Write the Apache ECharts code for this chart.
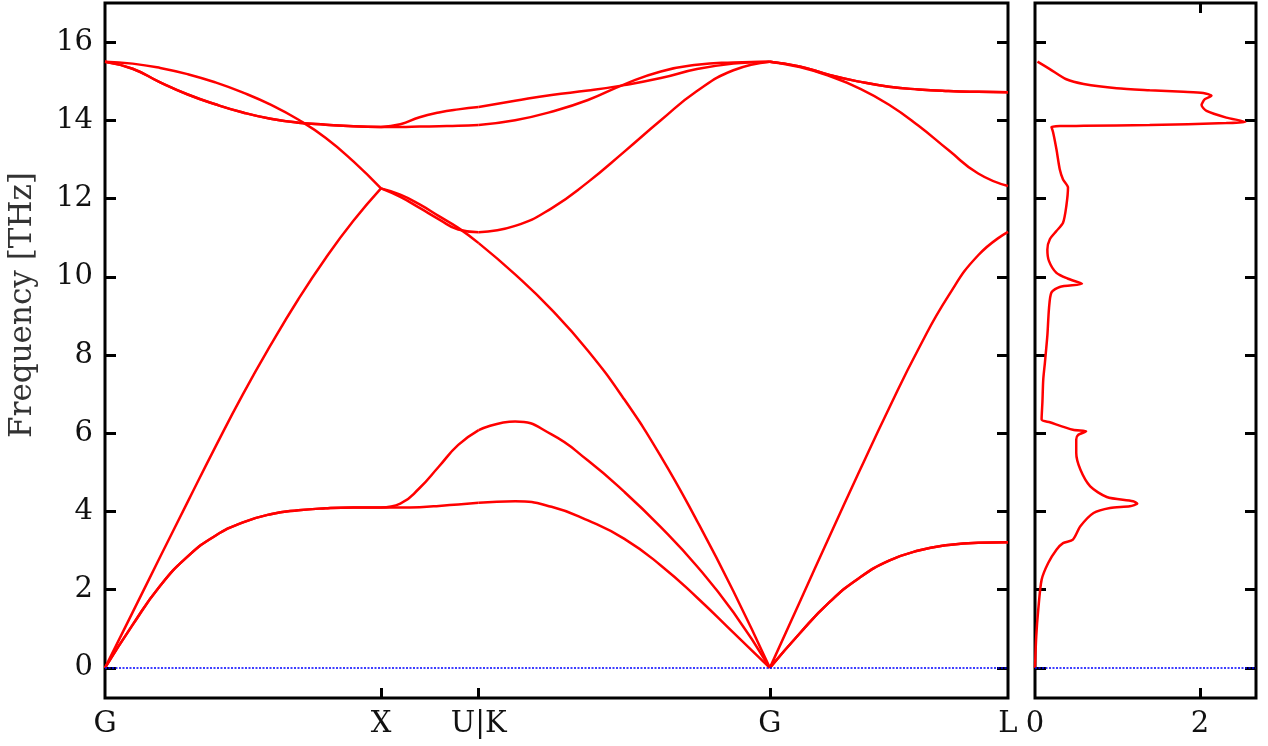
<!DOCTYPE html>
<html>
<head>
<meta charset="utf-8">
<title>Phonon bands and DOS</title>
<script src="https://cdn.jsdelivr.net/npm/echarts@6/dist/echarts.min.js"></script>
<style>
  html, body { margin: 0; padding: 0; background: #fff; }
  #chart { width: 1268px; height: 746px; }
</style>
</head>
<body>
<div id="chart"></div>
<script>
// high-symmetry points along the path
const kTicks = [0, 1, 1.354, 2.409, 3.272]
const kNames = ['G', 'X', 'U|K', 'G', 'L']
const freqTicks = [0, 2, 4, 6, 8, 10, 12, 14, 16]

// G -> X
const kGX = [0, 0.1, 0.2, 0.3, 0.4, 0.5, 0.6, 0.7, 0.8, 0.9, 1.0]
const bandsGX = [
  [0, 1.1, 2.1, 2.85, 3.38, 3.72, 3.93, 4.03, 4.08, 4.1, 4.1],
  [0, 1.1, 2.1, 2.85, 3.38, 3.72, 3.93, 4.03, 4.08, 4.1, 4.1],
  [0, 1.42, 2.84, 4.25, 5.65, 7.0, 8.25, 9.42, 10.48, 11.43, 12.26],
  [15.5, 15.32, 14.97, 14.66, 14.41, 14.2, 14.04, 13.94, 13.89, 13.85, 13.83],
  [15.5, 15.32, 14.97, 14.66, 14.41, 14.2, 14.04, 13.94, 13.89, 13.85, 13.83],
  [15.5, 15.45, 15.34, 15.18, 14.97, 14.71, 14.4, 14.02, 13.55, 12.95, 12.26]
]

// X -> U
const kXU = [1, 1.07, 1.14, 1.21, 1.28, 1.354]
const bandsXU = [
  [4.1, 4.1, 4.11, 4.14, 4.18, 4.22],
  [4.1, 4.2, 4.6, 5.15, 5.7, 6.08],
  [12.26, 12.1, 11.85, 11.55, 11.25, 10.86],
  [12.26, 12.04, 11.76, 11.47, 11.21, 11.14],
  [13.83, 13.83, 13.84, 13.85, 13.86, 13.88],
  [13.83, 13.9, 14.08, 14.2, 14.28, 14.34]
]

// K -> G
const kKG = [1.354, 1.486, 1.618, 1.75, 1.882, 2.014, 2.145, 2.277, 2.409]
const bandsKG = [
  [4.22, 4.26, 4.12, 3.77, 3.3, 2.62, 1.8, 0.9, 0],
  [6.08, 6.3, 5.97, 5.3, 4.5, 3.6, 2.6, 1.42, 0],
  [10.86, 10.06, 9.16, 8.11, 6.86, 5.41, 3.76, 1.96, 0],
  [11.14, 11.3, 11.75, 12.42, 13.2, 14.0, 14.75, 15.28, 15.5],
  [13.88, 14.0, 14.22, 14.52, 14.92, 15.25, 15.42, 15.48, 15.5],
  [14.34, 14.5, 14.65, 14.76, 14.9, 15.08, 15.31, 15.45, 15.5]
]

// G -> L
const kGL = [2.409, 2.517, 2.625, 2.733, 2.841, 2.948, 3.056, 3.164, 3.272]
const bandsGL = [
  [0, 0.88, 1.68, 2.3, 2.74, 3.0, 3.14, 3.2, 3.21],
  [0, 0.88, 1.68, 2.3, 2.74, 3.0, 3.14, 3.2, 3.21],
  [0, 1.68, 3.36, 5.02, 6.64, 8.16, 9.51, 10.55, 11.15],
  [15.5, 15.36, 15.13, 14.82, 14.4, 13.86, 13.24, 12.64, 12.32],
  [15.5, 15.38, 15.16, 14.99, 14.86, 14.79, 14.75, 14.73, 14.72],
  [15.5, 15.38, 15.16, 14.99, 14.86, 14.79, 14.75, 14.73, 14.72]
]

// density of states (frequency, dos)
const dosFreq = [15.5, 15.31, 15.05, 14.93, 14.82, 14.77, 14.73, 14.7, 14.63, 14.54, 14.39, 14.24, 14.07, 13.96,
  13.93, 13.88, 13.86, 13.83, 13.69, 13.26, 12.75, 12.49, 12.28, 11.81, 11.38, 11.17, 10.96, 10.7, 10.4, 10.1,
  9.95, 9.82, 9.74, 9.6, 9.2, 8.5, 7.8, 7.37, 6.8, 6.35, 6.28, 6.09, 6.05, 5.95, 5.84, 5.5, 5.07, 4.64, 4.37,
  4.26, 4.2, 4.13, 4.09, 3.96, 3.62, 3.28, 3.19, 3.02, 2.68, 2.25, 1.5, 0.8, 0]
const dosValue = [0.03, 0.18, 0.38, 0.59, 0.99, 1.39, 1.8, 2.04, 2.14, 2.06, 2.02, 2.08, 2.32, 2.55,
  2.32, 1.39, 0.59, 0.2, 0.22, 0.26, 0.3, 0.34, 0.4, 0.38, 0.34, 0.26, 0.18, 0.15, 0.17, 0.26,
  0.4, 0.57, 0.3, 0.2, 0.17, 0.15, 0.12, 0.1, 0.09, 0.08, 0.18, 0.46, 0.62, 0.52, 0.5, 0.5, 0.55, 0.67, 0.87,
  1.19, 1.24, 1.15, 0.91, 0.71, 0.55, 0.46, 0.34, 0.26, 0.16, 0.08, 0.04, 0.015, 0]
const dosTicks = [0, 2]

const segments = [
  { k: kGX, bands: bandsGX },
  { k: kXU, bands: bandsXU },
  { k: kKG, bands: bandsKG },
  { k: kGL, bands: bandsGL }
]

const FONT = 'DejaVu Serif'
const fMin = -0.77, fMax = 17

let myChart = echarts.init(document.getElementById('chart'), null, { renderer: 'canvas' })

const tickStyle = { color: '#000', width: 3 }
const labelStyle = { fontFamily: FONT, fontSize: 29, color: '#111' }

function freqAxis(grid, pos, labels) {
  return {
    type: 'value', gridIndex: grid, position: pos, min: fMin, max: fMax,
    axisLine: { show: false, onZero: false },
    splitLine: { show: false },
    axisTick: { show: true, inside: true, length: 11, lineStyle: tickStyle, customValues: freqTicks },
    axisLabel: labels
      ? Object.assign({ show: true, margin: 12, customValues: freqTicks }, labelStyle)
      : { show: false }
  }
}

let series = []
segments.forEach(seg => {
  seg.bands.forEach(band => {
    series.push({
      type: 'line', xAxisIndex: 0, yAxisIndex: 0,
      data: seg.k.map((k, i) => [k, band[i]]),
      smooth: 0.5, showSymbol: false, silent: true,
      lineStyle: { color: '#ff0000', width: 2.5 }
    })
  })
})

series.push({
  type: 'line', xAxisIndex: 1, yAxisIndex: 2,
  data: dosFreq.map((f, i) => [dosValue[i], f]),
  smooth: 0.25, showSymbol: false, silent: true,
  lineStyle: { color: '#ff0000', width: 2.5 }
})

// zero-frequency reference lines
;[[0, 0], [1, 2]].forEach(([xi, yi]) => {
  series.push({
    type: 'line', xAxisIndex: xi, yAxisIndex: yi, data: [], silent: true,
    markLine: {
      symbol: 'none', silent: true, label: { show: false },
      lineStyle: { color: '#0000ff', width: 1.6, type: [2, 1.5] },
      data: [{ yAxis: 0 }]
    }
  })
})

const option = {
  animation: false,
  backgroundColor: '#fff',
  grid: [
    { left: 105, top: 3, width: 903, height: 695, show: true, borderColor: '#000', borderWidth: 3 },
    { left: 1035, top: 3, width: 221, height: 695, show: true, borderColor: '#000', borderWidth: 3 }
  ],
  xAxis: [
    {
      type: 'value', gridIndex: 0, min: 0, max: kTicks[kTicks.length - 1],
      axisLine: { show: false, onZero: false }, splitLine: { show: false },
      axisTick: { show: true, inside: true, length: 10, lineStyle: tickStyle, customValues: kTicks.slice(1, -1) },
      axisLabel: Object.assign({
        show: true, margin: 12, customValues: kTicks,
        formatter: v => {
          const i = kTicks.findIndex(t => Math.abs(t - v) < 1e-6)
          return i >= 0 ? kNames[i] : ''
        }
      }, labelStyle)
    },
    {
      type: 'value', gridIndex: 1, min: 0, max: 2.68,
      axisLine: { show: false, onZero: false }, splitLine: { show: false },
      axisTick: { show: true, inside: true, length: 10, lineStyle: tickStyle, customValues: [2] },
      axisLabel: Object.assign({ show: true, margin: 12, customValues: dosTicks }, labelStyle)
    },
    {
      type: 'value', gridIndex: 1, position: 'top', min: 0, max: 2.68,
      axisLine: { show: false, onZero: false }, splitLine: { show: false },
      axisTick: { show: true, inside: true, length: 10, lineStyle: tickStyle, customValues: [2] },
      axisLabel: { show: false }
    }
  ],
  yAxis: [
    freqAxis(0, 'left', true),
    freqAxis(0, 'right', false),
    freqAxis(1, 'left', false),
    freqAxis(1, 'right', false)
  ],
  graphic: [{
    type: 'text', x: 23, y: 305, rotation: Math.PI / 2,
    style: {
      text: 'Frequency [THz]', font: '31px "DejaVu Serif"', fill: '#333',
      textAlign: 'center', textVerticalAlign: 'middle'
    }
  }],
  series: series
}

myChart.setOption(option)
window.onresize = () => { myChart.resize() }
</script>
</body>
</html>
